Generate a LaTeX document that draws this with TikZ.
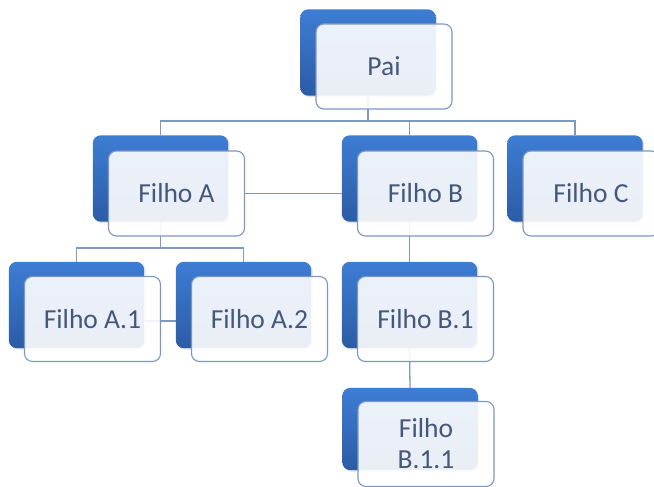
\documentclass[tikz,border=0pt]{standalone}
\usepackage{fontspec}
\setmainfont{Carlito}
\usetikzlibrary{shadows,calc}
\definecolor{backtop}{HTML}{3D7DD4}
\definecolor{backbot}{HTML}{2B5CA6}
\definecolor{frontfill}{HTML}{FFFFFF}
\definecolor{frontedge}{HTML}{7E97BD}
\definecolor{linkcol}{HTML}{7F98BD}
\definecolor{txtcol}{HTML}{45577A}
\tikzset{
  backbox/.style={rounded corners=8pt,
    top color=backtop, bottom color=backbot, draw=none,
    drop shadow={shadow xshift=1.5pt, shadow yshift=-1.5pt, opacity=0.25}},
  anchorbox/.style={minimum width=135pt, minimum height=86pt, inner sep=0pt},
  frontbox/.style={rounded corners=8pt, minimum width=136pt, minimum height=85pt,
    draw=frontedge, line width=1.1pt, fill=frontfill, fill opacity=0.9,
    text opacity=1, text=txtcol, align=center,
    font=\fontsize{27.5}{31}\selectfont},
  link/.style={draw=linkcol, line width=1.3pt}
}
\begin{document}
\begin{tikzpicture}[x=1pt, y=-1pt]
\useasboundingbox (0,0) rectangle (654,487);
\fill[white] (0,0) rectangle (654,487);

% centres of the back boxes
\coordinate (cPai) at (368,52.5);
\coordinate (cA)   at (160.5,178.5);
\coordinate (cB)   at (409.5,178.5);
\coordinate (cC)   at (575,178.5);
\coordinate (cA1)  at (76.5,305);
\coordinate (cA2)  at (243.5,305);
\coordinate (cB1)  at (409.5,305);
\coordinate (cB11) at (410,429);
\coordinate (busTop) at (0,121);
\coordinate (busA)   at (0,248);
\coordinate (midA)   at (0,321);

% empty placeholders for the back boxes
\node[anchorbox] (pB)   at (cPai) {};
\node[anchorbox] (aB)   at (cA) {};
\node[anchorbox] (bB)   at (cB) {};
\node[anchorbox] (cBk)  at (cC) {};
\node[anchorbox] (a1B)  at (cA1) {};
\node[anchorbox] (a2B)  at (cA2) {};
\node[anchorbox] (b1B)  at (cB1) {};
\node[anchorbox, minimum height=82pt] (b11B) at (cB11) {};

% placeholder for the front of Filho A
\node[anchorbox, minimum width=136pt, minimum height=85pt] (aF) at ($(cA)+(16,15)$) {};

% links
\draw[link] (pB.south) -- (pB.south |- busTop);
\draw[link] (aB.north) |- (busTop -| cBk.north) -- (cBk.north);
\draw[link] (bB.north) -- (bB.north |- busTop);
\draw[link] (aF.east) -- (aF.east -| bB.west);
\draw[link] (aB.south) -- (aB.south |- busA);
\draw[link] (a1B.north) |- (busA -| a2B.north) -- (a2B.north);
\draw[link] (a1B.east |- midA) -- (a2B.west |- midA);
\draw[link] (bB.south) -- (b1B.north);
\draw[link] (b1B.south) -- (b11B.north);

% back boxes
\foreach \n in {pB,aB,bB,cBk,a1B,a2B,b1B,b11B}{
  \path[backbox] (\n.north west) rectangle (\n.south east);
}

% front boxes with labels
\node[frontbox] (pai)  at ($(cPai)+(16,14)$)  {Pai};
\node[frontbox] (fa)   at ($(cA)+(16,15)$)    {Filho A};
\node[frontbox] (fb)   at ($(cB)+(16,15)$)    {Filho B};
\node[frontbox] (fc)   at ($(cC)+(16,15)$)    {Filho C};
\node[frontbox] (fa1)  at ($(cA1)+(16,14)$)   {Filho A.1};
\node[frontbox] (fa2)  at ($(cA2)+(16,14)$)   {Filho A.2};
\node[frontbox] (fb1)  at ($(cB1)+(16,14)$)   {Filho B.1};
\node[frontbox, font=\fontsize{27.5}{31}\selectfont] (fb11) at ($(cB11)+(16,15)$) {Filho\\B.1.1};
\end{tikzpicture}
\end{document}
